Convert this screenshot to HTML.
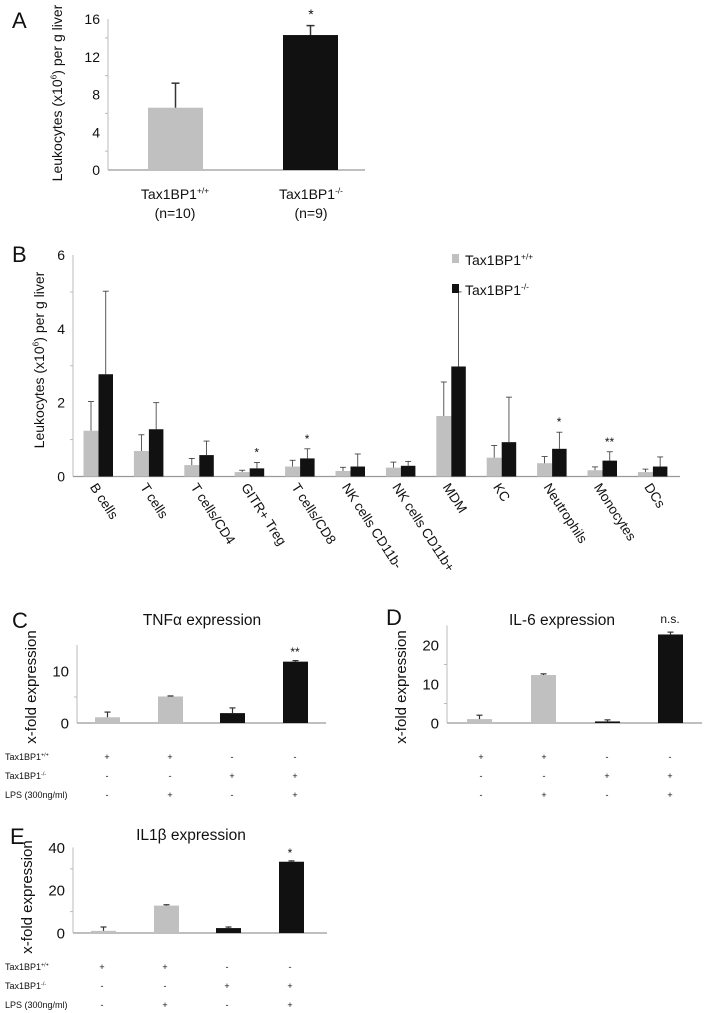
<!DOCTYPE html>
<html><head><meta charset="utf-8"><style>
html,body{margin:0;padding:0;background:#fff;}
svg{display:block;font-family:"Liberation Sans",Arial,sans-serif;}
</style></head><body>
<svg id="fig" width="708" height="1013" viewBox="0 0 708 1013" xmlns="http://www.w3.org/2000/svg"></svg>
<script>
// Panel A data
const aCats = ["Tax1BP1+/+", "Tax1BP1-/-"];
const aVals = [6.6, 14.3];
const aErr = [9.2, 15.3];
const aTicks = [0, 4, 8, 12, 16];
// Panel B data
const bCats = ["B cells","T cells","T cells/CD4","GITR+ Treg","T cells/CD8","NK cells CD11b-","NK cells CD11b+","MDM","KC","Neutrophils","Monocytes","DCs"];
const bWT = [1.24,0.69,0.31,0.12,0.27,0.15,0.24,1.64,0.51,0.36,0.17,0.12];
const bWTerr = [2.03,1.13,0.49,0.17,0.44,0.25,0.39,2.56,0.84,0.54,0.26,0.2];
const bKO = [2.77,1.28,0.58,0.22,0.49,0.27,0.29,2.98,0.93,0.75,0.43,0.27];
const bKOerr = [5.02,2.0,0.96,0.38,0.75,0.61,0.41,5.0,2.15,1.2,0.67,0.53];
const bStars = ["","","","*","*","","","","","*","**",""];
const bTicks = [0,2,4,6];
// Panel C data
const cVals = [1.1, 5.1, 1.9, 11.8];
const cErr = [2.1, 5.2, 2.9, 12.0];
const cTicks = [0, 10];
// Panel D data
const dVals = [1.0, 12.3, 0.4, 22.7];
const dErr = [2.0, 12.6, 0.8, 23.3];
const dTicks = [0, 10, 20];
// Panel E data
const eVals = [1.0, 12.8, 2.3, 33.3];
const eErr = [2.8, 13.2, 2.8, 33.7];
const eTicks = [0, 20, 40];
// condition signs
const rowWT = ["+","+","-","-"];
const rowKO = ["-","-","+","+"];
const rowLPS = ["-","+","-","+"];
const barFill = ["#c0c0c0","#c0c0c0","#111","#111"];

const svg = document.getElementById('fig');
const NS = "http://www.w3.org/2000/svg";
function mk(tag, attrs, parent){
  const e = document.createElementNS(NS, tag);
  for (const k in attrs) e.setAttribute(k, attrs[k]);
  (parent||svg).appendChild(e); return e;
}
function txt(x,y,s,size,anchor,parent,name){
  const t = mk('text',{x:x,y:y,'font-size':size,'text-anchor':anchor||'start',fill:'#111'},parent);
  t.textContent = s;
  
  
  return t;
}
function geno(x,y,sup,size,anchor,name,parent){
  const t = mk('text',{x:x,y:y,'font-size':size,'text-anchor':anchor||'start',fill:'#111'},parent);
  
  
  const a = mk('tspan',{},t); a.textContent = "Tax1BP1";
  const b = mk('tspan',{'font-size':size*0.6,dy:-size*0.4},t); b.textContent = sup;
  return t;
}
function ylab(x,y,size,parent,name){
  const t = mk('text',{x:0,y:0,'font-size':size,'text-anchor':'middle',fill:'#111',transform:`translate(${x},${y}) rotate(-90)`},parent);
  
  
  const a = mk('tspan',{},t); a.textContent = "Leukocytes (x10";
  const b = mk('tspan',{'font-size':size*0.6,dy:-size*0.4},t); b.textContent = "6";
  const c = mk('tspan',{dy:size*0.4},t); c.textContent = ") per g liver";
}
function axes(g, x0, x1, yOf, ticks, fs, minor){
  const yTop = yOf(ticks[ticks.length-1]);
  const l1 = mk('line',{x1:x0,y1:yOf(ticks[0]),x2:x1,y2:yOf(ticks[0]),stroke:'#999','stroke-width':1.2},g);
   
  const l2 = mk('line',{x1:x0,y1:yOf(ticks[0]),x2:x0,y2:yTop,stroke:'#bbb','stroke-width':1},g);
   
  ticks.forEach(v=>{ txt(x0-8, yOf(v)+fs*0.36, String(v), fs, 'end', g, 'y-tick-label'); });
  (minor||[]).forEach(v=>{ mk('line',{x1:x0-3,y1:yOf(v),x2:x0,y2:yOf(v),stroke:'#bbb'},g); });
}
function bar(g,x,w,v,e,yOf,fill,name,lw,cap){
  const r = mk('rect',{x:x,y:yOf(v),width:w,height:yOf(0)-yOf(v),fill:fill},g);
  
  
  const cx = x+w/2, c = cap||3;
  mk('line',{x1:cx,y1:yOf(v),x2:cx,y2:yOf(e),stroke:'#333','stroke-width':lw||1},g);
  mk('line',{x1:cx-c,y1:yOf(e),x2:cx+c,y2:yOf(e),stroke:'#333','stroke-width':lw||1},g);
}

// ---------- Panel A
(function(){
  const g = mk('g',{});  
  txt(12,28,"A",22,'start',g,'panel-label-a');
  const yOf = v => 170 - v*(151/16);
  axes(g,108,365,yOf,aTicks,14,[2,6,10,14]);
  ylab(62,93,14,g,'y-axis-title-a');
  const xs=[148,283], fills=["#c0c0c0","#111"];
  aVals.forEach((v,i)=>bar(g,xs[i],55,v,aErr[i],yOf,fills[i],'bar-a-'+i,1.5,4));
  txt(311,19,"*",14,'middle',g,'significance-a');
  geno(175,199,"+/+",14,'middle','x-label-wt',g);
  txt(175,218,"(n=10)",14,'middle',g,'n-wt');
  geno(311,199,"-/-",14,'middle','x-label-ko',g);
  txt(311,218,"(n=9)",14,'middle',g,'n-ko');
})();

// ---------- Panel B
(function(){
  const g = mk('g',{});  
  txt(12,262,"B",22,'start',g,'panel-label-b');
  const yOf = v => 476.5 - v*(221.5/6);
  axes(g,73,680,yOf,bTicks,14,[1,3,5]);
  ylab(44,360,14,g,'y-axis-title-b');
  bCats.forEach((c,i)=>{
    const x = 83.5 + i*50.4;
    bar(g,x,15,bWT[i],bWTerr[i],yOf,'#c0c0c0','bar-wt-'+c,0.8,3);
    bar(g,x+15,14.5,bKO[i],bKOerr[i],yOf,'#111','bar-ko-'+c,0.8,3);
    if (bStars[i]) txt(x+22, yOf(bKOerr[i])-6, bStars[i], 12, 'middle', g, 'significance-b');
    const t = mk('text',{x:0,y:0,'font-size':13.5,fill:'#111',transform:`translate(${x+6},${487}) rotate(57)`},g);
    t.textContent = c;
    
    
  });
  const l1 = mk('rect',{x:452,y:254,width:7,height:9,fill:'#c0c0c0'},g);
   
  geno(465,265,"+/+",14,'start','legend-entry-wt',g);
  const l2 = mk('rect',{x:452,y:284,width:7,height:9,fill:'#111'},g);
   
  geno(465,295,"-/-",14,'start','legend-entry-ko',g);
})();

// ---------- Expression panels
function exprPanel(name, letter, lx, ly, title, tx, ty, ax, axEnd, y0, unit, ticks, topV, minor, vals, errs, barX, star, starX, starY, rowY, signX, showRowLabels){
  const g = mk('g',{});  
  txt(lx,ly,letter,22,'start',g,'panel-label-'+name);
  txt(tx,ty,title,15.5,'middle',g,'chart-title-'+name);
  const yOf = v => y0 - v*unit;
  axes(g,ax,axEnd,yOf,ticks.concat([]),15,minor);
  mk('line',{x1:ax,y1:yOf(ticks[ticks.length-1]),x2:ax,y2:yOf(topV),stroke:'#bbb'},g);
  const t = mk('text',{x:0,y:0,'font-size':15,'text-anchor':'middle',fill:'#111',transform:`translate(${ax-41},${y0-36}) rotate(-90)`},g);
  t.textContent = "x-fold expression";
  
  
  vals.forEach((v,i)=>bar(g,barX[i],25,v,errs[i],yOf,barFill[i],'bar-'+name+'-'+i,1.2,3));
  txt(starX,starY,star,12,'middle',g,'significance-'+name);
  if (showRowLabels){
    geno(5,rowY[0],"+/+",9,'start','row-label-wt',g);
    geno(5,rowY[1],"-/-",9,'start','row-label-ko',g);
    txt(5,rowY[2],"LPS (300ng/ml)",9,'start',g,'row-label-lps');
  }
  [rowWT,rowKO,rowLPS].forEach((row,r)=>row.forEach((s,i)=>txt(signX[i],rowY[r],s,9,'middle',g,'condition-sign')));
}
exprPanel('c','C',12,628,"TNF\u03b1 expression",202,625,77,326,723,5.2,cTicks,15,[5],cVals,cErr,[95,158,220,283],"**",295,656,[760,779,798],[107,170,232,295],true);
exprPanel('d','D',386,625,"IL-6 expression",562,625,447,702,723,3.9,dTicks,25,[5,15],dVals,dErr,[467,531,595,658],"n.s.",670,623,[760,779,798],[481,544,607,670],false);
exprPanel('e','E',10,844,"IL1\u03b2 expression",191,840,73,327,933,2.14,eTicks,40,[10,30],eVals,eErr,[91,154,216,279],"*",290,857,[970,989,1008],[102,165,227,290],true);
</script>
</body></html>
